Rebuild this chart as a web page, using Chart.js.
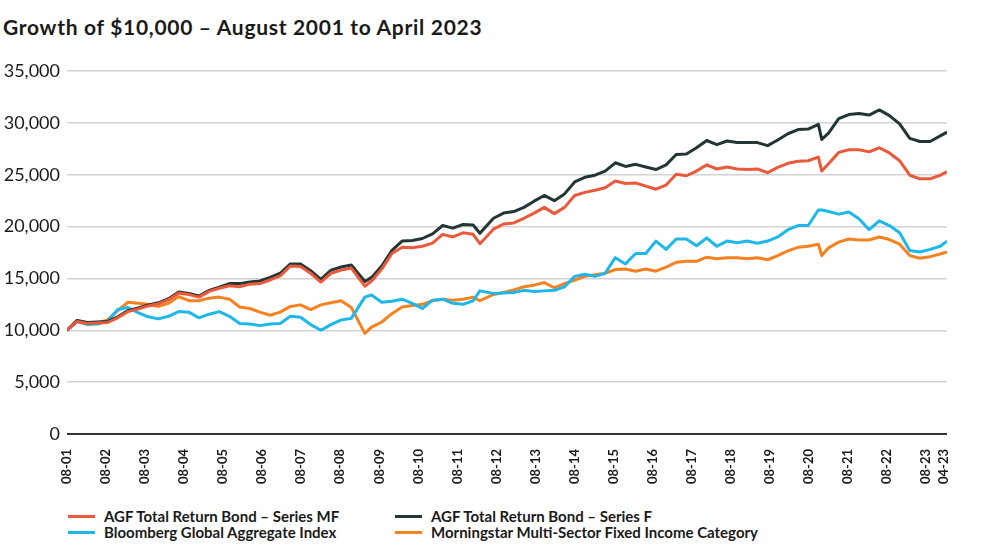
<!DOCTYPE html>
<html lang="en">
<head>
  <meta charset="UTF-8">
  <title>Growth of $10,000</title>
  <script src="https://cdn.jsdelivr.net/npm/chart.js"></script>
  <style>
    body {
      margin: 0;
      width: 1000px;
      height: 550px;
      background: #fff;
      font-family: Lato, "Open Sans", sans-serif;
      color: #1a1a1a;
      position: relative;
      overflow: hidden;
    }
    h1 {
      position: absolute;
      left: 3px;
      top: 14px;
      margin: 0;
      font-size: 21px;
      letter-spacing: 0.7px;
      font-weight: 700;
      line-height: 26px;
    }
    #wrap {
      position: absolute;
      left: 0;
      top: 50px;
      width: 1000px;
      height: 450px;
    }
    .legend {
      position: absolute;
      display: flex;
      align-items: center;
      font-size: 15px;
      font-weight: 700;
      height: 16px;
    }
    .legend span.swatch {
      display: inline-block;
      width: 27px;
      height: 3px;
      margin-right: 9px;
    }
  </style>
</head>
<body>
  <h1>Growth of $10,000 – August 2001 to April 2023</h1>
  <div id="wrap"><canvas id="growthChart"></canvas></div>
  <div id="legend"></div>

  <script>
    // months since August 2001
    const months = [0,3,6,9,12,15,18,21,24,27,30,33,36,39,42,45,48,51,54,57,60,63,66,69,72,75,78,81,84,88,90,93,96,99,102,105,108,111,114,117,120,122,126,129,132,135,138,141,144,147,150,153,156,159,162,165,168,171,174,177,180,183,186,189,192,195,198,201,204,207,210,213,216,219,222,223,225,228,231,234,237,240,243,246,249,252,255,258,260];

    const seriesMF = [10000,10850,10650,10700,10750,11200,11800,12050,12350,12550,12950,13600,13450,13200,13750,14050,14300,14200,14450,14500,14850,15250,16200,16150,15500,14650,15500,15800,16000,14250,14750,15900,17400,18000,17950,18100,18400,19250,19000,19400,19250,18350,19750,20250,20350,20800,21300,21850,21250,21850,23000,23300,23500,23750,24400,24150,24200,23900,23600,24000,25050,24900,25350,25950,25550,25750,25550,25500,25550,25200,25700,26100,26300,26350,26700,25350,26050,27150,27400,27400,27200,27600,27100,26350,24950,24600,24600,24950,25300];

    const seriesF = [10000,10950,10750,10800,10850,11300,11900,12150,12450,12650,13050,13700,13550,13300,13850,14150,14500,14500,14650,14750,15100,15500,16400,16400,15750,14900,15800,16100,16300,14700,15100,16200,17700,18600,18650,18850,19300,20100,19850,20200,20150,19350,20800,21300,21450,21850,22450,23000,22500,23150,24300,24750,24950,25350,26150,25800,26000,25750,25500,25950,26950,27000,27600,28300,27900,28250,28100,28100,28100,27800,28350,28950,29350,29400,29850,28400,29000,30400,30800,30900,30750,31250,30700,29900,28500,28200,28200,28750,29100];

    const seriesBloomberg = [10000,10850,10550,10600,10900,12000,12200,11700,11300,11100,11350,11800,11750,11200,11550,11800,11350,10650,10600,10450,10600,10650,11350,11250,10550,10000,10550,11000,11150,13200,13400,12700,12800,13000,12600,12100,12900,13000,12600,12500,12850,13800,13550,13600,13650,13850,13750,13800,13850,14200,15200,15400,15200,15500,17000,16400,17400,17400,18600,17800,18800,18800,18150,18900,18100,18600,18450,18600,18400,18600,19000,19700,20100,20100,21600,21600,21450,21200,21400,20750,19700,20550,20100,19400,17700,17550,17800,18100,18600];

    const seriesMorningstar = [10000,10950,10650,10700,11000,11900,12700,12600,12500,12300,12600,13250,12850,12850,13100,13200,13000,12250,12100,11750,11450,11750,12300,12450,12000,12450,12650,12850,12200,9700,10300,10800,11600,12250,12400,12500,12850,13000,12900,13000,13200,12850,13450,13650,13900,14200,14350,14600,14100,14500,14850,15200,15350,15500,15850,15900,15700,15900,15700,16100,16550,16650,16650,17050,16900,17000,17000,16900,17000,16800,17200,17650,18000,18100,18300,17200,17950,18500,18800,18700,18700,19000,18750,18300,17200,16950,17100,17350,17550];

    const tickLabels = ['08-01','08-02','08-03','08-04','08-05','08-06','08-07','08-08','08-09','08-10','08-11','08-12','08-13','08-14','08-15','08-16','08-17','08-18','08-19','08-20','08-21','08-22','08-23','04-23'];
    const seriesNames = [
      'AGF Total Return Bond – Series MF',
      'AGF Total Return Bond – Series F',
      'Bloomberg Global Aggregate Index',
      'Morningstar Multi-Sector Fixed Income Category'
    ];
    const seriesColors = ['#ea5a3a', '#233535', '#1db7ea', '#f68121'];
    const seriesData = [seriesMF, seriesF, seriesBloomberg, seriesMorningstar];

    // the axis labels in the original are spaced a little tighter than one year
    const TICK_STEP = 11.535;
    const tickValues = tickLabels.map((t, i) => i < tickLabels.length - 1 ? i * TICK_STEP : 259);

    const ctx = document.getElementById('growthChart').getContext('2d');

    const chart = new Chart(ctx, {
      type: 'line',
      data: {
        datasets: seriesData.map((vals, i) => ({
          label: seriesNames[i],
          data: months.map((m, j) => ({ x: m, y: vals[j] })),
          borderColor: seriesColors[i],
          backgroundColor: seriesColors[i],
          borderWidth: 3,
          pointRadius: 0,
          tension: 0,
          borderJoinStyle: 'round'
        }))
      },
      options: {
        responsive: true,
        maintainAspectRatio: false,
        animation: false,
        layout: { padding: { top: 21, right: 53, bottom: 0, left: 0 } },
        plugins: {
          legend: { display: false },
          tooltip: { enabled: false }
        },
        scales: {
          x: {
            type: 'linear',
            min: 0,
            max: 260,
            grid: { display: false, drawTicks: false },
            border: { display: false },
            afterBuildTicks: (scale) => {
              scale.ticks = tickValues.map(v => ({ value: v }));
            },
            afterFit: (scale) => { scale.height = 66; },
            ticks: {
              autoSkip: false,
              minRotation: 90,
              maxRotation: 90,
              padding: 15,
              color: '#1a1a1a',
              font: { family: 'Lato', size: 13, weight: 'bold' },
              callback: (value, index) => tickLabels[index]
            }
          },
          y: {
            min: 0,
            max: 35000,
            afterFit: (scale) => { scale.width = 67; },
            border: { display: false },
            grid: {
              drawTicks: false,
              color: (c) => c.tick && c.tick.value === 0 ? '#333333' : '#d2d2d2',
              lineWidth: (c) => c.tick && c.tick.value === 0 ? 2 : 1.5
            },
            ticks: {
              stepSize: 5000,
              padding: 7,
              color: '#1a1a1a',
              font: { family: 'Lato', size: 18 },
              callback: (v) => v.toLocaleString('en-US')
            }
          }
        }
      }
    });

    // legend in two columns below the chart
    const legendPos = [
      { left: 68, top: 508 },
      { left: 395, top: 508 },
      { left: 68, top: 524 },
      { left: 395, top: 524 }
    ];
    const legendEl = document.getElementById('legend');
    seriesNames.forEach((name, i) => {
      const item = document.createElement('div');
      item.className = 'legend';
      item.style.left = legendPos[i].left + 'px';
      item.style.top = legendPos[i].top + 'px';
      item.innerHTML = '<span class="swatch" style="background:' + seriesColors[i] + '"></span>' + name;
      legendEl.appendChild(item);
    });
  </script>
</body>
</html>
